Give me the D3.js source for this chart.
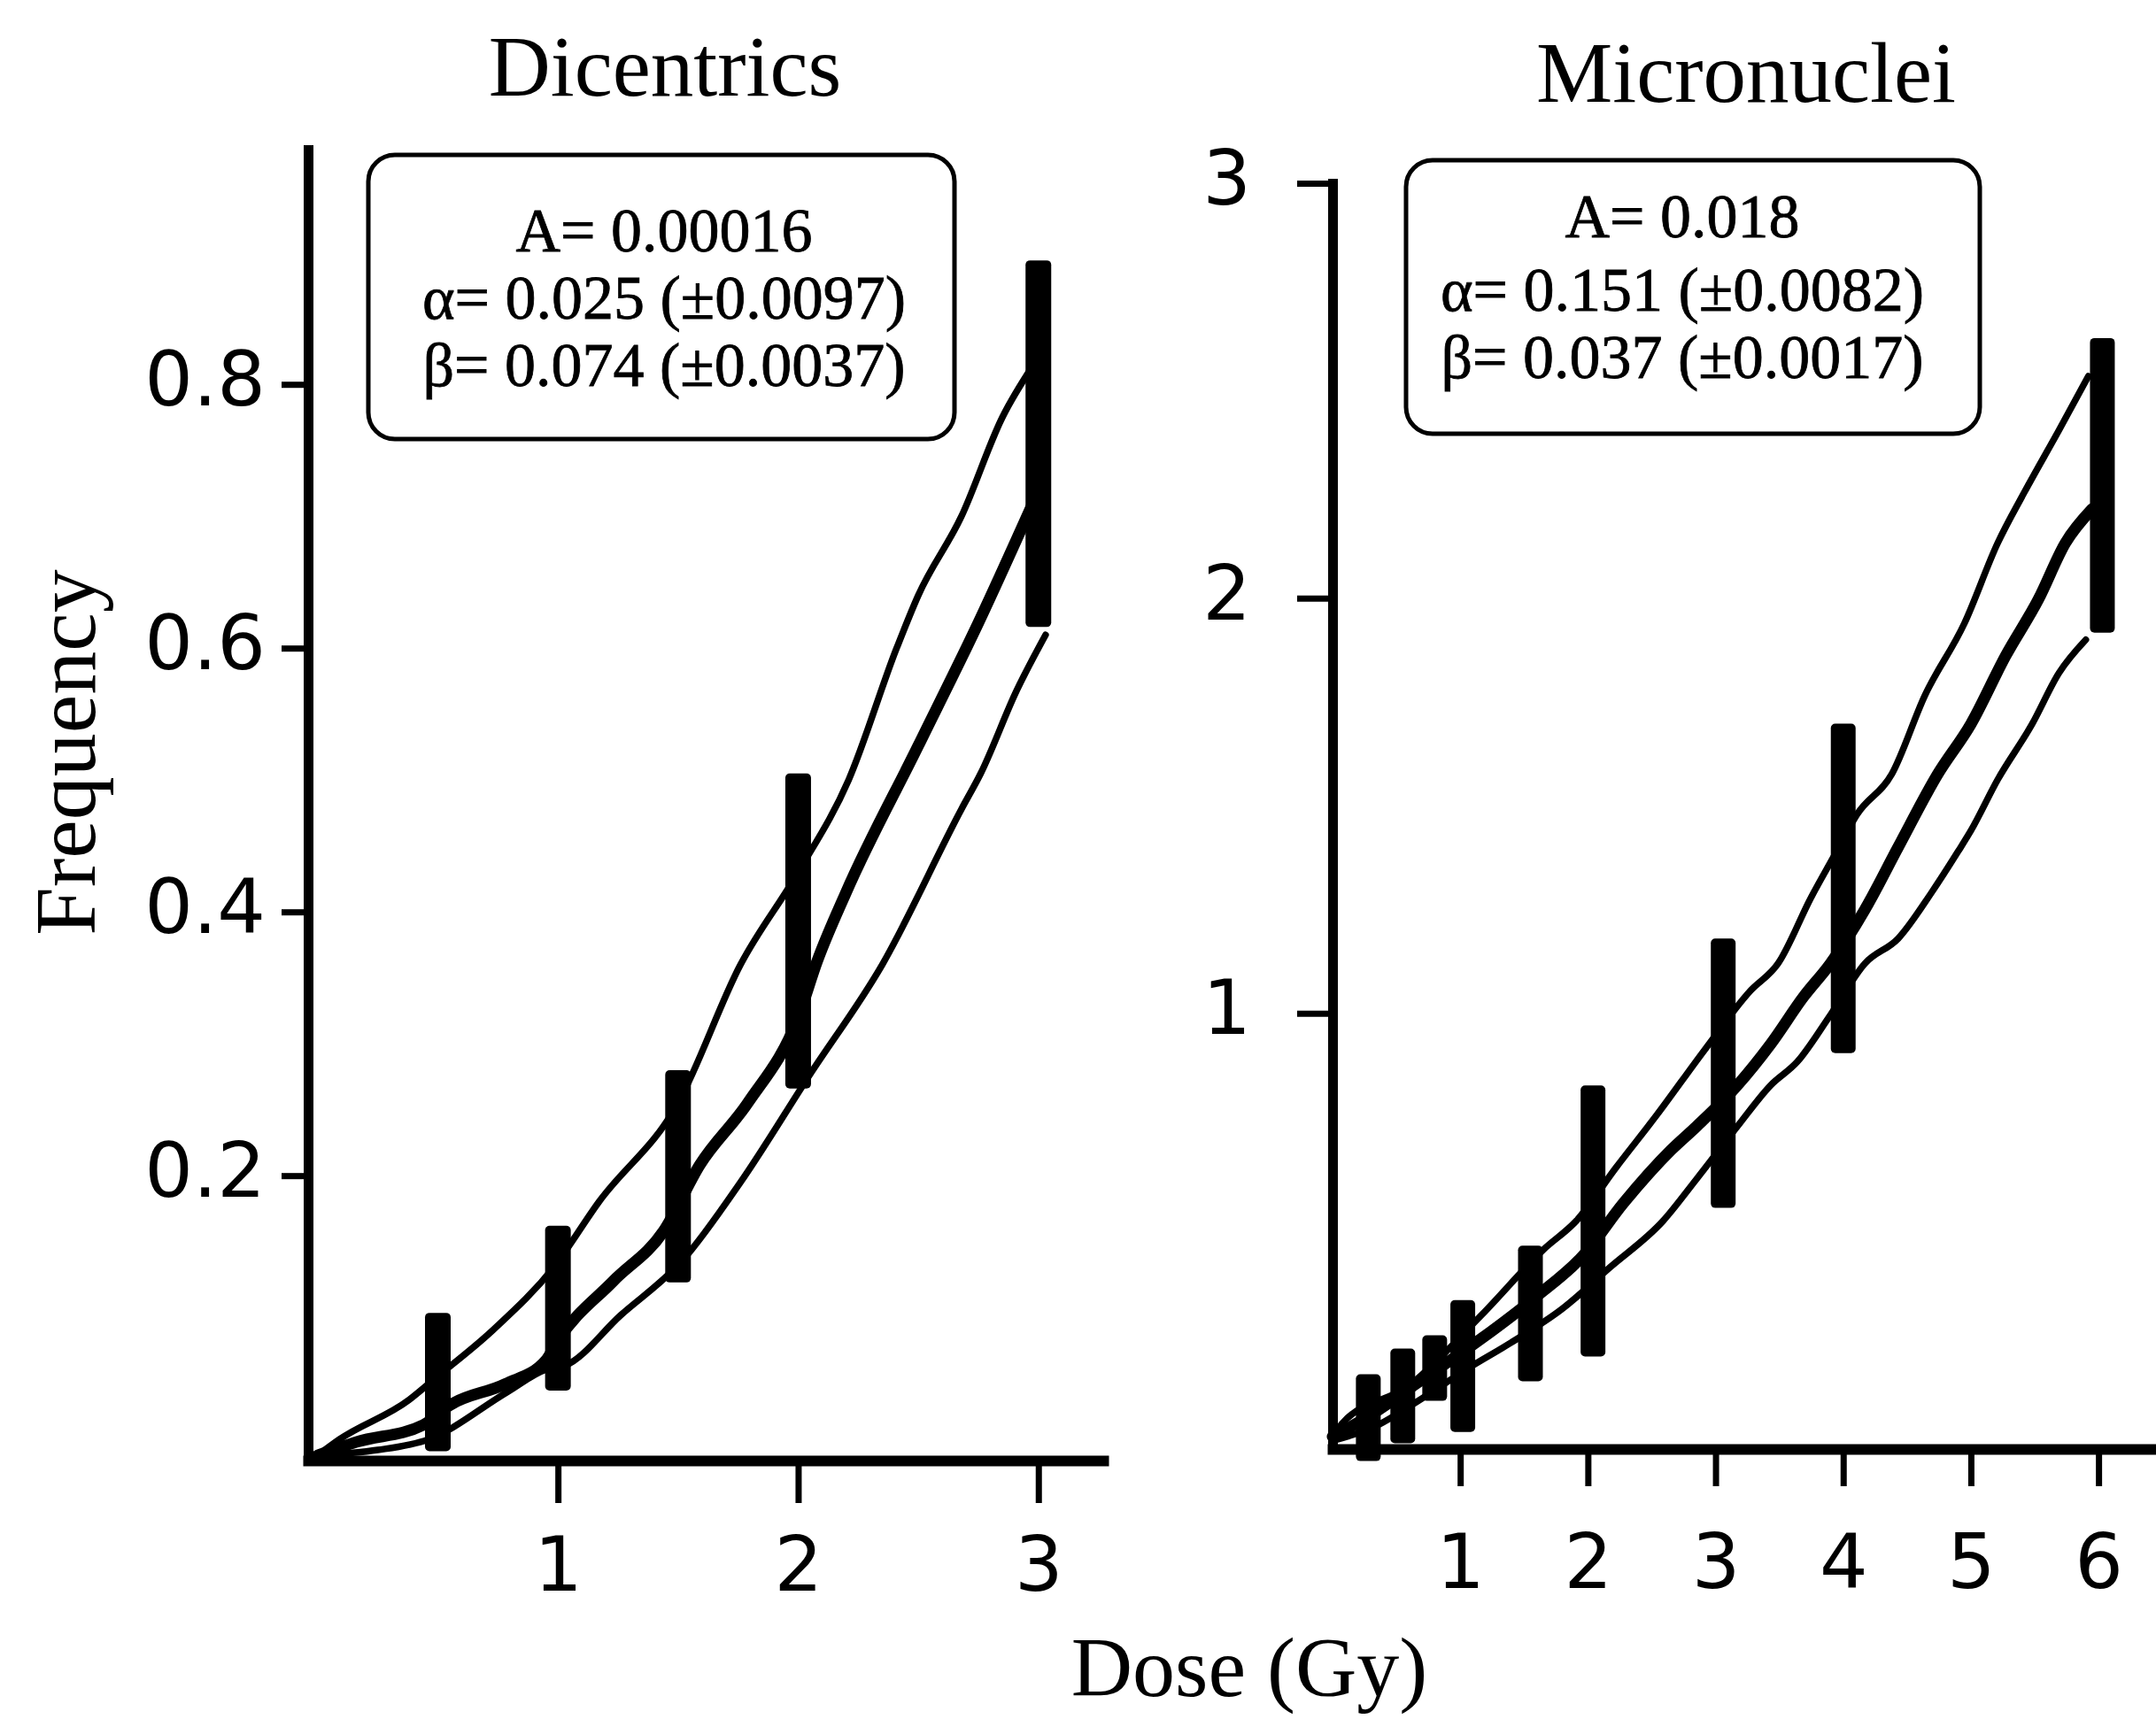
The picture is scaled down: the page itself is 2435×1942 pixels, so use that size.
<!DOCTYPE html>
<html><head><meta charset="utf-8">
<script src="https://cdn.jsdelivr.net/npm/d3@7"></script>
<style>html,body{margin:0;padding:0;background:#fff;} svg{display:block}</style>
</head><body>
<svg id="chart" width="2435" height="1942"></svg>
<script>
// ---------- Dicentrics panel data ----------
const dicTitle = "Dicentrics";
const dicDoseTicks = [1, 2, 3];
const dicFreqTicks = [0.2, 0.4, 0.6, 0.8];
const dicParams = ["A= 0.00016", "\u03b1= 0.025 (\u00b10.0097)", "\u03b2= 0.074 (\u00b10.0037)"];
const dicBarDose = [0.5, 1, 1.5, 2, 3];
const dicBarLow  = [-0.009, 0.037, 0.119, 0.266, 0.616];
const dicBarHigh = [0.096, 0.162, 0.280, 0.505, 0.894];
const dicUpper = [[0,-0.012],[0.09,0.0],[0.38,0.03],[0.48,0.045],[0.73,0.083],[0.98,0.13],[1.17,0.18],[1.5,0.255],[1.76,0.36],[2.0,0.43],[2.21,0.5],[2.41,0.6],[2.5,0.64],[2.68,0.7],[2.85,0.775],[2.98,0.815]];
const dicFit   = [[0,-0.012],[0.16,-0.002],[0.44,0.011],[0.55,0.026],[0.78,0.042],[0.95,0.06],[1.0,0.075],[1.23,0.12],[1.44,0.158],[1.59,0.208],[1.79,0.255],[2.0,0.32],[2.08,0.363],[2.2,0.415],[2.5,0.526],[2.76,0.623],[2.97,0.707]];
const dicLower = [[0,-0.012],[0.25,-0.008],[0.46,0.0],[0.79,0.036],[0.95,0.053],[1.03,0.056],[1.26,0.094],[1.52,0.136],[1.76,0.195],[2.05,0.277],[2.35,0.36],[2.68,0.478],[2.76,0.505],[2.91,0.568],[3.03,0.61]];

// ---------- Micronuclei panel data ----------
const micTitle = "Micronuclei";
const micDoseTicks = [1, 2, 3, 4, 5, 6];
const micFreqTicks = [1, 2, 3];
const micParams = ["A= 0.018", "\u03b1= 0.151 (\u00b10.0082)", "\u03b2= 0.037 (\u00b10.0017)"];
const micBarDose = [0.28, 0.55, 0.8, 1.02, 1.55, 2.04, 3.06, 4.0, 6.03];
const micBarLow  = [-0.079, -0.036, 0.066, -0.009, 0.113, 0.173, 0.531, 0.904, 1.917];
const micBarHigh = [0.130, 0.192, 0.224, 0.309, 0.440, 0.826, 1.180, 1.698, 2.627];
const micUpper = [[0,-0.03],[0.07,0.01],[0.6,0.103],[1.17,0.274],[1.65,0.43],[1.91,0.5],[2.22,0.628],[2.54,0.755],[2.91,0.91],[3.27,1.053],[3.49,1.12],[3.75,1.28],[3.93,1.38],[4.11,1.48],[4.38,1.576],[4.64,1.766],[4.95,1.94],[5.21,2.133],[5.42,2.256],[5.69,2.405],[5.92,2.535]];
const micFit   = [[0,-0.02],[0.23,0.019],[0.7,0.117],[1.17,0.217],[1.59,0.316],[1.96,0.415],[2.28,0.543],[2.65,0.67],[2.85,0.727],[3.17,0.826],[3.43,0.925],[3.69,1.04],[3.9,1.12],[4.17,1.25],[4.43,1.4],[4.74,1.576],[5.0,1.697],[5.27,1.86],[5.53,1.998],[5.74,2.133],[5.95,2.215]];
const micLower = [[0,-0.03],[0.33,0.004],[0.65,0.062],[1.07,0.146],[1.38,0.203],[1.8,0.288],[2.17,0.387],[2.59,0.5],[2.85,0.6],[3.17,0.727],[3.43,0.826],[3.64,0.883],[3.9,0.996],[4.17,1.12],[4.43,1.18],[4.69,1.29],[4.9,1.39],[5.0,1.44],[5.21,1.563],[5.48,1.697],[5.69,1.82],[5.9,1.9]];

const xLabel = "Dose (Gy)";
const yLabel = "Frequency";

const SERIF = "'Liberation Serif','Times New Roman',serif";
const SANS = "'DejaVu Sans',Verdana,sans-serif";

const svg = d3.select("#chart");
svg.append("rect").attr("width", 2435).attr("height", 1942).attr("fill", "#fff");

function panel(cfg) {
  const x = d3.scaleLinear().domain(cfg.xDomain).range(cfg.xRange);
  const y = d3.scaleLinear().domain(cfg.yDomain).range(cfg.yRange);
  const g = svg.append("g");

  const line = d3.line().x(d => x(d[0])).y(d => y(d[1])).curve(d3.curveMonotoneX);
  [[cfg.upper, 7.5], [cfg.lower, 7.5], [cfg.fit, 13]].forEach(([data, w]) => {
    g.append("path").datum(data).attr("d", line)
      .attr("fill", "none").attr("stroke", "#000")
      .attr("stroke-width", w).attr("stroke-linejoin", "round").attr("stroke-linecap", "round");
  });

  const bars = cfg.barDose.map((d, i) => ({ d, lo: cfg.barLow[i], hi: cfg.barHigh[i] }));
  g.selectAll("rect.bar").data(bars).join("rect").attr("class", "bar")
    .attr("x", d => x(d.d) - cfg.barW / 2).attr("width", cfg.barW)
    .attr("y", d => y(d.hi)).attr("height", d => y(d.lo) - y(d.hi))
    .attr("rx", 5).attr("fill", "#000");

  // x axis
  const gx = g.append("g").attr("transform", `translate(0,${cfg.yRange[0]})`)
    .call(d3.axisBottom(x).tickValues(cfg.xTicks).tickSize(cfg.xTickSize).tickSizeOuter(0).tickFormat(d3.format("d")));
  gx.attr("font-family", SANS).attr("font-size", 86);
  gx.select(".domain").attr("stroke-width", 12).attr("stroke-linecap", "square");
  gx.selectAll(".tick line").attr("stroke-width", 7);
  gx.selectAll(".tick text").attr("y", cfg.xLabelBase).attr("dy", null).attr("fill", "#000");

  // y axis
  const gy = g.append("g").attr("transform", `translate(${cfg.xRange[0]},0)`)
    .call(d3.axisLeft(y).tickValues(cfg.yTicks).tickSize(cfg.yTickSize).tickPadding(cfg.yPad)
      .tickSizeOuter(0).tickFormat(d3.format(cfg.yFormat)));
  gy.attr("font-family", SANS).attr("font-size", 86);
  gy.select(".domain").attr("stroke-width", 11).attr("stroke-linecap", "square");
  gy.selectAll(".tick line").attr("stroke-width", 7);
  gy.selectAll(".tick text").attr("dy", "0.27em").attr("fill", "#000");

  // title
  svg.append("text").attr("x", cfg.titleX).attr("y", cfg.titleY)
    .attr("text-anchor", "middle").attr("font-family", SERIF).attr("font-size", 97)
    .text(cfg.title);

  // parameter box
  const b = cfg.box;
  svg.append("rect").attr("x", b[0]).attr("y", b[1]).attr("width", b[2] - b[0]).attr("height", b[3] - b[1])
    .attr("rx", 30).attr("fill", "none").attr("stroke", "#000").attr("stroke-width", 5);
  svg.append("g").selectAll("text").data(cfg.params).join("text")
    .attr("x", cfg.paramX).attr("y", (d, i) => cfg.paramY[i])
    .attr("text-anchor", "middle").attr("font-family", SERIF).attr("font-size", 70)
    .attr("stroke", "#000").attr("stroke-width", 0.8)
    .text(d => d);
}

panel({
  title: dicTitle, titleX: 751, titleY: 108,
  xDomain: [-0.04, 3.27], xRange: [348, 1246],
  yDomain: [-0.016, 0.978], yRange: [1650, 169],
  xTicks: dicDoseTicks, yTicks: dicFreqTicks, yFormat: ".1f",
  xTickSize: 48, xLabelBase: 147, yTickSize: 30, yPad: 18,
  barDose: dicBarDose, barLow: dicBarLow, barHigh: dicBarHigh, barW: 29,
  upper: dicUpper, fit: dicFit, lower: dicLower,
  box: [416, 175, 1078, 496], params: dicParams, paramX: 750, paramY: [284, 360, 436]
});

panel({
  title: micTitle, titleX: 1972, titleY: 115,
  xDomain: [0, 6.45], xRange: [1505, 2435],
  yDomain: [-0.05, 3], yRange: [1637, 207],
  xTicks: micDoseTicks, yTicks: micFreqTicks, yFormat: "d",
  xTickSize: 42, xLabelBase: 157, yTickSize: 40, yPad: 52,
  barDose: micBarDose, barLow: micBarLow, barHigh: micBarHigh, barW: 28,
  upper: micUpper, fit: micFit, lower: micLower,
  box: [1588, 181, 2236, 490], params: micParams, paramX: 1900, paramY: [268, 351, 427]
});

svg.append("text").attr("x", 1411).attr("y", 1916)
  .attr("text-anchor", "middle").attr("font-family", SERIF).attr("font-size", 96).text(xLabel);
svg.append("text").attr("transform", "translate(107,850) rotate(-90)")
  .attr("text-anchor", "middle").attr("font-family", SERIF).attr("font-size", 98).text(yLabel);
</script>
</body></html>
